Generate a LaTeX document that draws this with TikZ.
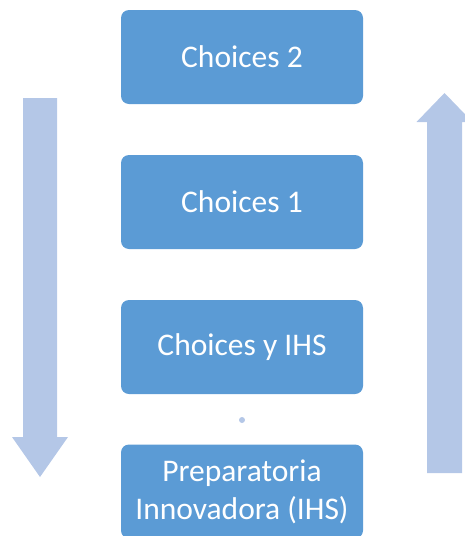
\documentclass[tikz,border=0pt]{standalone}
\usepackage{fontspec}
\setmainfont{Carlito}
\definecolor{boxblue}{HTML}{5B9BD5}
\definecolor{arrowblue}{HTML}{B4C7E7}
\begin{document}
\begin{tikzpicture}[x=1pt,y=-1pt,
        level/.style={rectangle,rounded corners=8pt,fill=boxblue,text=white,
            minimum width=242pt,minimum height=94pt,inner sep=0pt,align=center,
            font=\fontsize{31.5}{37.8}\selectfont},
        bigarrow/.style={fill=arrowblue}]

\useasboundingbox (0,0) rectangle (465,536);
\clip (0,0) rectangle (465,536);

\node[level] (choicestwo) at (242,57) {Choices 2};
\node[level] (choicesone) at (242,202) {Choices 1};
\node[level] (choicesihs) at (242,347) {Choices y IHS};
\node[level] (prepa) at (242,491.5) {Preparatoria\\Innovadora (IHS)};

\fill[arrowblue] (242,420) circle (3pt);

% down arrow on the left
\fill[bigarrow] (23,98) -- (57,98) -- (57,437) -- (68,437) -- (40,477)
    -- (12,437) -- (23,437) -- cycle;
% up arrow on the right
\fill[bigarrow] (427,473) -- (462,473) -- (462,122) -- (472.5,122) -- (444.5,93)
    -- (416.5,122) -- (427,122) -- cycle;
\end{tikzpicture}
\end{document}
